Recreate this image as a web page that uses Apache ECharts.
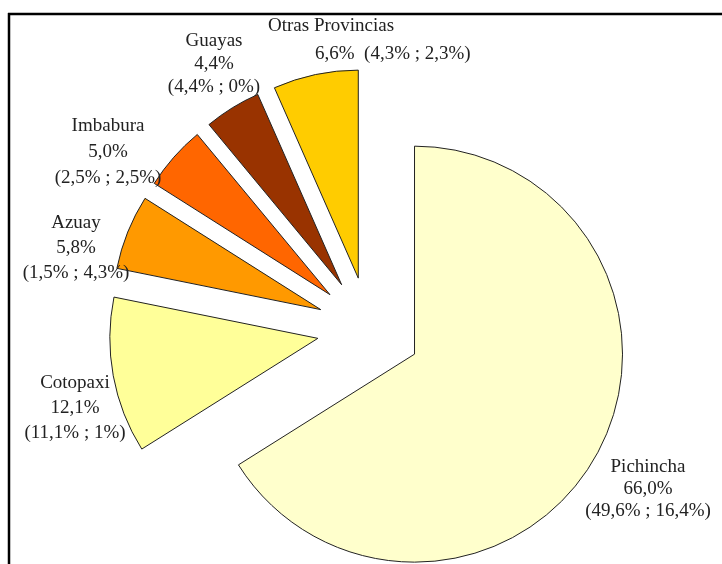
<!DOCTYPE html>
<html>
<head>
<meta charset="utf-8">
<script src="https://cdn.jsdelivr.net/npm/echarts@6/dist/echarts.min.js"></script>
<style>
html,body{margin:0;padding:0;background:#fff;}
#chart{width:722px;height:564px;}
</style>
</head>
<body>
<div id="chart"></div>
<script>
var categories = ['Pichincha', 'Cotopaxi', 'Azuay', 'Imbabura', 'Guayas', 'Otras Provincias'];
var values = [66.0, 12.1, 5.8, 5.0, 4.4, 6.6];
var partA = [49.6, 11.1, 1.5, 2.5, 4.4, 4.3];
var partB = [16.4, 1, 4.3, 2.5, 0, 2.3];
var colors = ['#FFFFCC', '#FFFF99', '#FF9900', '#FF6600', '#993300', '#FFCC00'];

// label anchor positions (layout only)
var labelPos = [
  {x: 648, y: 489, lh: 22},
  {x: 75, y: 408, lh: 25},
  {x: 76, y: 248, lh: 25},
  {x: 108, y: 152, lh: 26},
  {x: 214, y: 64, lh: 23},
  {x: 268, y: 40, lh: 28}
];

function fmtPart(v) {
  if (Number.isInteger(v)) return v + '%';
  return v.toFixed(1).replace('.', ',') + '%';
}
function fmtVal(v) {
  return v.toFixed(1).replace('.', ',') + '%';
}

var FONT = 'Liberation Serif';
var FS = 19;
var TXT = '#222';

var data = categories.map(function (c, i) {
  return {
    name: c,
    value: values[i],
    selected: true,
    itemStyle: {color: colors[i]},
    select: {itemStyle: {color: colors[i], borderColor: '#222', borderWidth: 1}}
  };
});

var labels = categories.map(function (c, i) {
  var p = labelPos[i];
  var last = (i === categories.length - 1);
  var style;
  if (last) {
    style = {
      text: '{t|' + c + '}\n{s|' + fmtVal(values[i]) + '  (' + fmtPart(partA[i]) + ' ; ' + fmtPart(partB[i]) + ')}',
      align: 'left',
      verticalAlign: 'middle',
      fontFamily: FONT, fontSize: FS, fill: TXT,
      rich: {
        t: {fontFamily: FONT, fontSize: FS, lineHeight: p.lh, fill: TXT},
        s: {fontFamily: FONT, fontSize: FS, lineHeight: p.lh, fill: TXT, padding: [0, 0, 0, 47]}
      }
    };
  } else {
    style = {
      text: c + '\n' + fmtVal(values[i]) + '\n(' + fmtPart(partA[i]) + ' ; ' + fmtPart(partB[i]) + ')',
      align: 'center',
      verticalAlign: 'middle',
      lineHeight: p.lh,
      fontFamily: FONT, fontSize: FS, fill: TXT
    };
  }
  return {type: 'text', x: p.x, y: p.y, z: 10, style: style};
});

var chart = echarts.init(document.getElementById('chart'), null, {renderer: 'canvas'});
chart.setOption({
  animation: false,
  backgroundColor: '#ffffff',
  graphic: [
    {type: 'line', shape: {x1: 8, y1: 14, x2: 722, y2: 14}, style: {stroke: '#000', lineWidth: 2.5}},
    {type: 'line', shape: {x1: 9, y1: 13, x2: 9, y2: 564}, style: {stroke: '#000', lineWidth: 2.5}}
  ].concat(labels),
  series: [{
    type: 'pie',
    center: [369, 329],
    radius: 208,
    startAngle: 90,
    clockwise: true,
    selectedMode: 'multiple',
    selectedOffset: 52,
    emphasis: {disabled: true, scale: false},
    itemStyle: {borderColor: '#222', borderWidth: 1},
    label: {show: false},
    labelLine: {show: false},
    data: data
  }]
});
</script>
</body>
</html>
